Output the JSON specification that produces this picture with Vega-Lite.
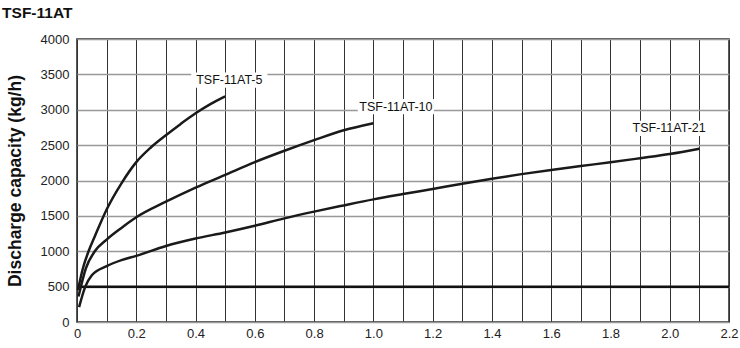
{
  "$schema": "https://vega.github.io/schema/vega-lite/v6.json",
  "width": 652,
  "height": 283,
  "autosize": {"type": "none"},
  "padding": {"left": 77, "top": 39, "right": 11, "bottom": 26},
  "background": "white",
  "title": {"text": "TSF-11AT", "anchor": "start", "fontSize": 15.5, "fontWeight": "bold", "font": "Liberation Sans", "color": "#111", "offset": 12, "dx": -4},
  "config": {
    "view": {"stroke": "#222", "strokeWidth": 1.5},
    "font": "Liberation Sans"
  },
  "datasets": {
    "curves": [
      {"series": "TSF-11AT-5", "x": 0.003, "y": 450},
      {"series": "TSF-11AT-5", "x": 0.02, "y": 760},
      {"series": "TSF-11AT-5", "x": 0.04, "y": 1010},
      {"series": "TSF-11AT-5", "x": 0.06, "y": 1210},
      {"series": "TSF-11AT-5", "x": 0.1, "y": 1590},
      {"series": "TSF-11AT-5", "x": 0.15, "y": 1960},
      {"series": "TSF-11AT-5", "x": 0.2, "y": 2260},
      {"series": "TSF-11AT-5", "x": 0.25, "y": 2470},
      {"series": "TSF-11AT-5", "x": 0.3, "y": 2640},
      {"series": "TSF-11AT-5", "x": 0.35, "y": 2800},
      {"series": "TSF-11AT-5", "x": 0.4, "y": 2950},
      {"series": "TSF-11AT-5", "x": 0.45, "y": 3080},
      {"series": "TSF-11AT-5", "x": 0.5, "y": 3190},
      {"series": "TSF-11AT-10", "x": 0.005, "y": 360},
      {"series": "TSF-11AT-10", "x": 0.03, "y": 760},
      {"series": "TSF-11AT-10", "x": 0.06, "y": 1000},
      {"series": "TSF-11AT-10", "x": 0.1, "y": 1165},
      {"series": "TSF-11AT-10", "x": 0.15, "y": 1330},
      {"series": "TSF-11AT-10", "x": 0.2, "y": 1480},
      {"series": "TSF-11AT-10", "x": 0.3, "y": 1700},
      {"series": "TSF-11AT-10", "x": 0.4, "y": 1900},
      {"series": "TSF-11AT-10", "x": 0.5, "y": 2080},
      {"series": "TSF-11AT-10", "x": 0.6, "y": 2260},
      {"series": "TSF-11AT-10", "x": 0.7, "y": 2420},
      {"series": "TSF-11AT-10", "x": 0.8, "y": 2570},
      {"series": "TSF-11AT-10", "x": 0.9, "y": 2710},
      {"series": "TSF-11AT-10", "x": 1.0, "y": 2810},
      {"series": "TSF-11AT-21", "x": 0.007, "y": 210},
      {"series": "TSF-11AT-21", "x": 0.028, "y": 500},
      {"series": "TSF-11AT-21", "x": 0.05, "y": 660},
      {"series": "TSF-11AT-21", "x": 0.1, "y": 790},
      {"series": "TSF-11AT-21", "x": 0.15, "y": 875},
      {"series": "TSF-11AT-21", "x": 0.2, "y": 935},
      {"series": "TSF-11AT-21", "x": 0.3, "y": 1075},
      {"series": "TSF-11AT-21", "x": 0.4, "y": 1180},
      {"series": "TSF-11AT-21", "x": 0.5, "y": 1265},
      {"series": "TSF-11AT-21", "x": 0.6, "y": 1360},
      {"series": "TSF-11AT-21", "x": 0.7, "y": 1465},
      {"series": "TSF-11AT-21", "x": 0.8, "y": 1560},
      {"series": "TSF-11AT-21", "x": 0.9, "y": 1648},
      {"series": "TSF-11AT-21", "x": 1.0, "y": 1733},
      {"series": "TSF-11AT-21", "x": 1.1, "y": 1808},
      {"series": "TSF-11AT-21", "x": 1.2, "y": 1880},
      {"series": "TSF-11AT-21", "x": 1.3, "y": 1955},
      {"series": "TSF-11AT-21", "x": 1.4, "y": 2025},
      {"series": "TSF-11AT-21", "x": 1.5, "y": 2090},
      {"series": "TSF-11AT-21", "x": 1.6, "y": 2150},
      {"series": "TSF-11AT-21", "x": 1.7, "y": 2205},
      {"series": "TSF-11AT-21", "x": 1.8, "y": 2257},
      {"series": "TSF-11AT-21", "x": 1.9, "y": 2315},
      {"series": "TSF-11AT-21", "x": 2.0, "y": 2375},
      {"series": "TSF-11AT-21", "x": 2.1, "y": 2450}
    ],
    "labels": [
      {"label": "TSF-11AT-5", "x": 0.514, "y": 3420},
      {"label": "TSF-11AT-10", "x": 1.076, "y": 3043},
      {"label": "TSF-11AT-21", "x": 1.998, "y": 2738}
    ],
    "refline": [
      {"x": 0, "y": 500},
      {"x": 2.2, "y": 500}
    ]
  },
  "encoding": {
    "x": {
      "field": "x", "type": "quantitative",
      "scale": {"domain": [0, 2.2], "nice": false, "zero": false},
      "axis": {
        "values": [0, 0.1, 0.2, 0.3, 0.4, 0.5, 0.6, 0.7, 0.8, 0.9, 1.0, 1.1, 1.2, 1.3, 1.4, 1.5, 1.6, 1.7, 1.8, 1.9, 2.0, 2.1, 2.2],
        "labelExpr": "round(datum.value*10) % 2 != 0 ? '' : (datum.value == 0 ? '0' : format(datum.value, '.1f'))",
        "title": null, "grid": true, "gridColor": "#333", "gridWidth": 1, "gridOpacity": 1,
        "domain": false, "ticks": false, "labelFontSize": 13, "labelColor": "#222", "labelPadding": 5,
        "labelFont": "Liberation Sans", "labelFlush": false, "labelOverlap": false
      }
    },
    "y": {
      "field": "y", "type": "quantitative",
      "scale": {"domain": [0, 4000], "nice": false},
      "axis": {
        "values": [0, 500, 1000, 1500, 2000, 2500, 3000, 3500, 4000],
        "format": "d",
        "title": "Discharge capacity (kg/h)", "titleFontSize": 17.5, "titleFontWeight": "bold",
        "titleColor": "#111", "titleFont": "Liberation Sans", "titlePadding": 16,
        "grid": true, "gridColor": "#999", "gridWidth": 1.5, "gridOpacity": 1,
        "domain": false, "ticks": false, "labelFontSize": 13, "labelColor": "#222", "labelPadding": 8,
        "labelFont": "Liberation Sans", "labelFlush": false, "labelOverlap": false
      }
    }
  },
  "layer": [
    {
      "data": {"name": "refline"},
      "mark": {"type": "line", "strokeWidth": 2.5, "color": "#111"}
    },
    {
      "data": {"name": "curves"},
      "mark": {"type": "line", "interpolate": "monotone", "strokeWidth": 2.5, "color": "#1a1a1a"},
      "encoding": {"detail": {"field": "series"}}
    },
    {
      "data": {"name": "labels"},
      "mark": {"type": "point", "shape": "M-1,-0.2L1,-0.2L1,0.2L-1,0.2Z", "filled": true, "fill": "white", "opacity": 1, "strokeWidth": 0, "size": 5800}
    },
    {
      "data": {"name": "labels"},
      "mark": {"type": "text", "fontSize": 12.5, "color": "#111", "font": "Liberation Sans", "align": "center", "baseline": "middle"},
      "encoding": {"text": {"field": "label"}}
    }
  ]
}
